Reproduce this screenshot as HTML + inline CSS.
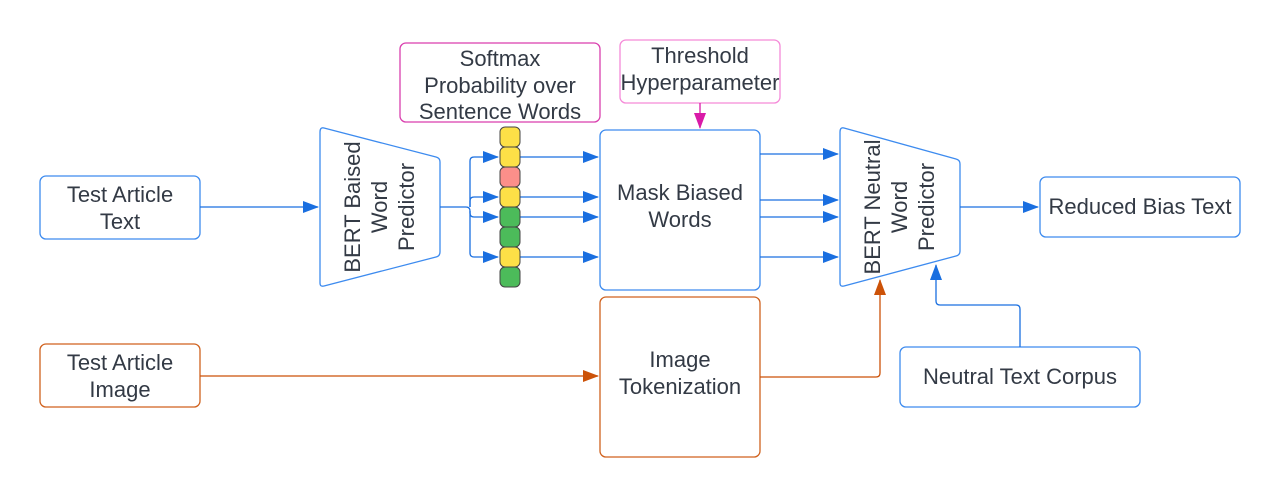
<!DOCTYPE html>
<html><head><meta charset="utf-8"><style>
html,body{margin:0;padding:0;background:#fff;}
svg{display:block;}
text{font-family:"Liberation Sans",Arial,sans-serif;font-size:22px;fill:#333a45;text-anchor:middle;}
</style></head><body>
<svg width="1280" height="498" viewBox="0 0 1280 498" xmlns="http://www.w3.org/2000/svg">
<defs>
<marker id="ab" markerWidth="16" markerHeight="12" refX="15" refY="6" orient="auto" markerUnits="userSpaceOnUse"><path d="M0,0 L16,6 L0,12 z" fill="#1a6fe0"/></marker>
<marker id="ao" markerWidth="16" markerHeight="12" refX="15" refY="6" orient="auto" markerUnits="userSpaceOnUse"><path d="M0,0 L16,6 L0,12 z" fill="#cc5208"/></marker>
<marker id="am" markerWidth="16" markerHeight="12" refX="15" refY="6" orient="auto" markerUnits="userSpaceOnUse"><path d="M0,0 L16,6 L0,12 z" fill="#d91aa8"/></marker>
</defs>
<g fill="none" stroke-width="1.3">
<rect x="40" y="176" width="160" height="63" rx="6" stroke="#3d8bef"/>
<rect x="40" y="344" width="160" height="63" rx="6" stroke="#d0621e"/>
<rect x="400" y="43" width="200" height="79" rx="6" stroke="#d93fae"/>
<rect x="620" y="40" width="160" height="63" rx="6" stroke="#f58ad8"/>
<rect x="600" y="130" width="160" height="160" rx="6" stroke="#3d8bef"/>
<rect x="600" y="297" width="160" height="160" rx="6" stroke="#d0621e"/>
<rect x="1040" y="177" width="200" height="60" rx="6" stroke="#3d8bef"/>
<rect x="900" y="347" width="240" height="60" rx="6" stroke="#3d8bef"/>
<path d="M324,128 L436,157 Q440,158 440,162 L440,252 Q440,256 436,257 L324,286 Q320,287 320,283 L320,132 Q320,127 324,128 z" stroke="#3d8bef"/>
<path d="M844,128 L956,159 Q960,160 960,164 L960,251 Q960,255 956,256 L844,286 Q840,287 840,283 L840,132 Q840,127 844,128 z" stroke="#3d8bef"/>
<g stroke="#1a6fe0">
<path d="M200,207 L318,207" marker-end="url(#ab)"/>
<path d="M440,207 L466,207"/>
<path d="M470,207 L470,161 Q470,157 474,157 L498,157" marker-end="url(#ab)"/>
<path d="M470,207 L470,201 Q470,197 474,197 L498,197" marker-end="url(#ab)"/>
<path d="M466,207 Q470,207 470,211 L470,213 Q470,217 474,217 L498,217" marker-end="url(#ab)"/>
<path d="M470,211 L470,253 Q470,257 474,257 L498,257" marker-end="url(#ab)"/>
<path d="M520,157 L598,157" marker-end="url(#ab)"/>
<path d="M520,197 L598,197" marker-end="url(#ab)"/>
<path d="M520,217 L598,217" marker-end="url(#ab)"/>
<path d="M520,257 L598,257" marker-end="url(#ab)"/>
<path d="M760,154 L838,154" marker-end="url(#ab)"/>
<path d="M760,200 L838,200" marker-end="url(#ab)"/>
<path d="M760,217 L838,217" marker-end="url(#ab)"/>
<path d="M760,257 L838,257" marker-end="url(#ab)"/>
<path d="M960,207 L1038,207" marker-end="url(#ab)"/>
<path d="M1020,347 L1020,309 Q1020,305 1016,305 L940,305 Q936,305 936,301 L936,265" marker-end="url(#ab)"/>
</g>
<g stroke="#cc5208">
<path d="M200,376 L598,376" marker-end="url(#ao)"/>
<path d="M760,377 L876,377 Q880,377 880,373 L880,280" marker-end="url(#ao)"/>
</g>
<path d="M700,103 L700,128" stroke="#d91aa8" marker-end="url(#am)"/>
</g>
<g stroke="#444" stroke-width="1">
<rect x="500" y="127" width="20" height="20" rx="5" fill="#fde047"/>
<rect x="500" y="147" width="20" height="20" rx="5" fill="#fde047"/>
<rect x="500" y="167" width="20" height="20" rx="5" fill="#fb8f8a"/>
<rect x="500" y="187" width="20" height="20" rx="5" fill="#fde047"/>
<rect x="500" y="207" width="20" height="20" rx="5" fill="#4cbb5a"/>
<rect x="500" y="227" width="20" height="20" rx="5" fill="#4cbb5a"/>
<rect x="500" y="247" width="20" height="20" rx="5" fill="#fde047"/>
<rect x="500" y="267" width="20" height="20" rx="5" fill="#4cbb5a"/>
</g>
<text x="120" y="202">Test Article</text>
<text x="120" y="229">Text</text>
<text x="120" y="370">Test Article</text>
<text x="120" y="397">Image</text>
<text x="500" y="66">Softmax</text>
<text x="500" y="93">Probability over</text>
<text x="500" y="119">Sentence Words</text>
<text x="700" y="63">Threshold</text>
<text x="700" y="90">Hyperparameter</text>
<text x="680" y="200">Mask Biased</text>
<text x="680" y="227">Words</text>
<text x="680" y="367">Image</text>
<text x="680" y="394">Tokenization</text>
<text x="1140" y="214">Reduced Bias Text</text>
<text x="1020" y="384">Neutral Text Corpus</text>
<g transform="translate(380,207) rotate(-90)">
<text x="0" y="-20">BERT Baised</text>
<text x="0" y="7">Word</text>
<text x="0" y="34">Predictor</text>
</g>
<g transform="translate(900,207) rotate(-90)">
<text x="0" y="-20">BERT Neutral</text>
<text x="0" y="7">Word</text>
<text x="0" y="34">Predictor</text>
</g>
</svg>
</body></html>
